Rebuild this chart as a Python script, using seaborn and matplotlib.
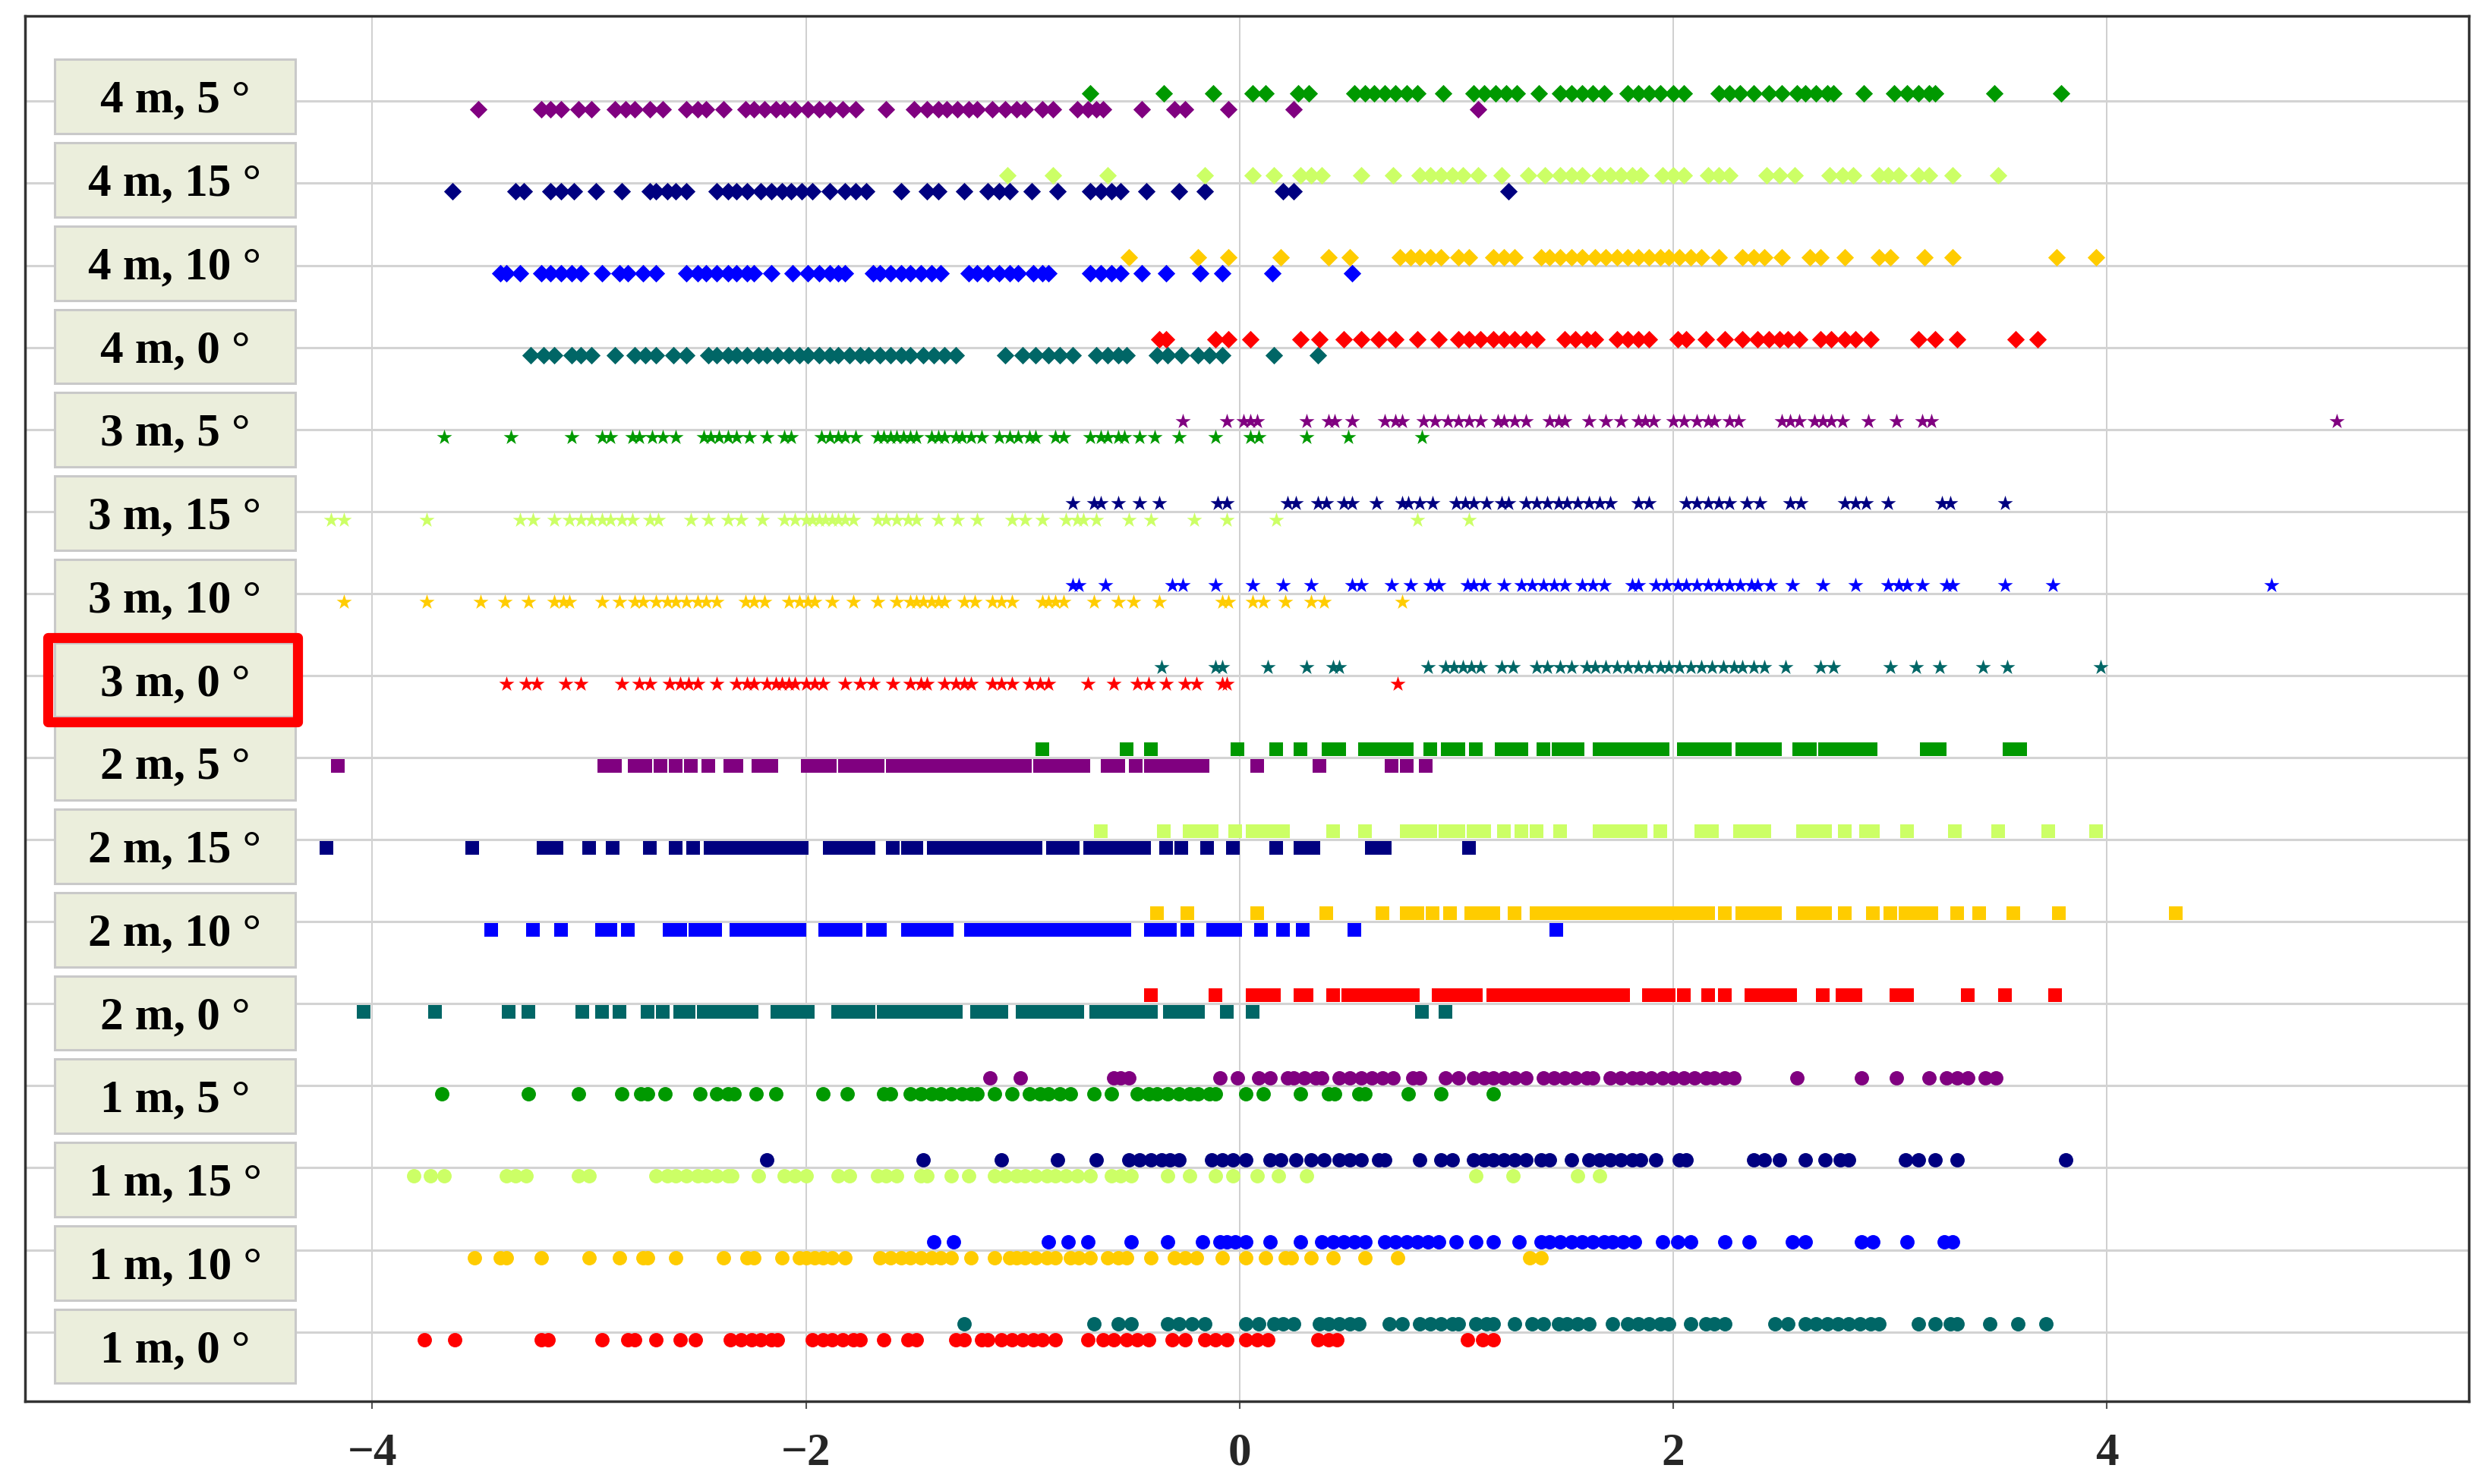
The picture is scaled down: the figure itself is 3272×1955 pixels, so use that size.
import matplotlib
matplotlib.use("Agg")
import matplotlib.pyplot as plt
import seaborn as sns
import numpy as np
from matplotlib.patches import Rectangle

# ---------------- data (x values) ----------------
# each row: "neg" = cluster drawn just below the row line, "pos" = just above
m1_d0_neg = [-3.76,-3.62,-3.22,-3.19,-2.94,-2.82,-2.79,-2.69,-2.58,-2.51,-2.35,-2.30,-2.25,-2.21,-2.16,-2.13,
             -1.97,-1.92,-1.88,-1.83,-1.78,-1.75,-1.64,-1.53,-1.49,-1.31,-1.27,-1.19,-1.16,-1.10,-1.05,-1.00,
             -0.95,-0.91,-0.85,-0.70,-0.63,-0.58,-0.52,-0.47,-0.42,-0.31,-0.25,-0.16,-0.11,-0.06,0.03,0.08,
             0.13,0.36,0.41,0.45,1.05,1.12,1.17]
m1_d0_pos = [-1.27,-0.67,-0.56,-0.50,-0.33,-0.28,-0.22,-0.16,0.03,0.09,0.16,0.20,0.25,0.37,0.41,0.46,0.51,
             0.55,0.69,0.75,0.83,0.88,0.93,0.98,1.01,1.09,1.14,1.17,1.27,1.35,1.40,1.47,1.51,1.56,1.61,1.72,
             1.79,1.84,1.89,1.94,1.98,2.08,2.15,2.19,2.24,2.47,2.53,2.61,2.66,2.71,2.76,2.81,2.86,2.91,2.95,
             3.13,3.21,3.28,3.31,3.46,3.59,3.72]
m1_d10_neg = [-3.53,-3.41,-3.38,-3.22,-3.00,-2.86,-2.75,-2.73,-2.60,-2.38,-2.27,-2.24,-2.11,-2.03,-2.00,-1.96,
              -1.92,-1.88,-1.82,-1.66,-1.61,-1.56,-1.52,-1.47,-1.42,-1.38,-1.33,-1.24,-1.13,-1.06,-1.03,-0.99,
              -0.94,-0.89,-0.85,-0.78,-0.74,-0.69,-0.61,-0.56,-0.52,-0.41,-0.30,-0.25,-0.20,-0.08,0.03,0.12,
              0.21,0.24,0.33,0.43,0.58,0.73,1.34,1.39]
m1_d10_pos = [-1.41,-1.32,-0.88,-0.79,-0.70,-0.50,-0.33,-0.17,-0.09,-0.06,-0.02,0.03,0.14,0.28,0.38,0.43,
              0.48,0.53,0.58,0.67,0.72,0.77,0.82,0.87,0.92,1.00,1.09,1.17,1.29,1.39,1.43,1.48,1.53,1.58,1.63,
              1.68,1.72,1.77,1.82,1.95,2.02,2.08,2.24,2.35,2.55,2.61,2.87,2.92,3.08,3.25,3.29]
m1_d15_neg = [-3.81,-3.73,-3.67,-3.38,-3.34,-3.29,-3.05,-3.00,-2.69,-2.64,-2.60,-2.55,-2.50,-2.46,-2.41,-2.36,
              -2.34,-2.22,-2.10,-2.05,-2.00,-1.85,-1.80,-1.67,-1.63,-1.58,-1.47,-1.44,-1.33,-1.25,-1.13,-1.08,
              -1.03,-0.99,-0.94,-0.89,-0.85,-0.80,-0.75,-0.69,-0.59,-0.55,-0.50,-0.33,-0.23,-0.11,-0.03,0.08,
              0.18,0.31,1.09,1.26,1.56,1.66]
m1_d15_pos = [-2.18,-1.46,-1.10,-0.84,-0.66,-0.51,-0.46,-0.41,-0.36,-0.32,-0.28,-0.13,-0.08,-0.03,0.03,0.14,
              0.19,0.26,0.33,0.39,0.46,0.51,0.56,0.64,0.67,0.83,0.93,0.98,1.08,1.13,1.17,1.22,1.27,1.32,1.39,
              1.43,1.53,1.61,1.66,1.71,1.76,1.81,1.85,1.92,2.03,2.06,2.37,2.42,2.49,2.61,2.70,2.77,2.81,3.07,
              3.13,3.21,3.31,3.81]
m1_d5_neg = [-3.68,-3.28,-3.05,-2.85,-2.76,-2.73,-2.65,-2.49,-2.41,-2.36,-2.33,-2.23,-2.14,-1.92,-1.81,-1.64,
             -1.61,-1.52,-1.47,-1.42,-1.38,-1.33,-1.28,-1.24,-1.21,-1.13,-1.05,-0.97,-0.92,-0.88,-0.83,-0.78,
             -0.67,-0.59,-0.47,-0.42,-0.38,-0.33,-0.28,-0.23,-0.19,-0.14,-0.11,0.03,0.11,0.28,0.41,0.44,0.55,
             0.58,0.78,0.93,1.17]
m1_d5_pos = [-1.15,-1.01,-0.58,-0.55,-0.51,-0.09,-0.01,0.09,0.14,0.22,0.25,0.30,0.35,0.38,0.46,0.51,0.56,
             0.61,0.66,0.71,0.80,0.83,0.95,1.01,1.08,1.13,1.17,1.22,1.27,1.32,1.40,1.45,1.50,1.55,1.60,1.63,
             1.71,1.76,1.81,1.85,1.90,1.95,2.00,2.05,2.10,2.15,2.19,2.24,2.28,2.57,2.87,3.03,3.18,3.26,3.31,
             3.36,3.44,3.49]

m2_d0_neg = [-4.04,-3.71,-3.37,-3.28,-3.03,-2.94,-2.86,-2.73,-2.66,-2.58,-2.54,-2.47,-2.43,-2.38,-2.33,-2.28,
             -2.25,-2.13,-2.08,-2.03,-1.99,-1.85,-1.80,-1.75,-1.71,-1.64,-1.60,-1.55,-1.50,-1.46,-1.41,-1.36,
             -1.31,-1.21,-1.15,-1.10,-1.00,-0.95,-0.91,-0.85,-0.80,-0.75,-0.66,-0.61,-0.55,-0.50,-0.45,-0.41,
             -0.32,-0.27,-0.23,-0.19,-0.06,0.06,0.84,0.95]
m2_d0_pos = [-0.41,-0.11,0.06,0.11,0.16,0.28,0.31,0.43,0.50,0.56,0.61,0.66,0.71,0.75,0.80,0.92,0.96,1.01,
             1.06,1.09,1.17,1.22,1.27,1.32,1.37,1.42,1.47,1.51,1.56,1.61,1.66,1.72,1.77,1.89,1.94,1.98,2.05,
             2.16,2.24,2.36,2.40,2.45,2.50,2.54,2.69,2.78,2.84,3.03,3.08,3.36,3.53,3.76]
m2_d10_neg = [-3.45,-3.26,-3.13,-2.94,-2.90,-2.82,-2.63,-2.58,-2.51,-2.47,-2.42,-2.32,-2.27,-2.22,-2.18,-2.13,
              -2.08,-2.03,-1.91,-1.86,-1.82,-1.77,-1.69,-1.66,-1.53,-1.49,-1.44,-1.39,-1.35,-1.24,-1.19,-1.14,
              -1.10,-1.05,-1.00,-0.95,-0.91,-0.86,-0.81,-0.77,-0.72,-0.67,-0.63,-0.58,-0.53,-0.41,-0.36,-0.32,
              -0.24,-0.12,-0.06,-0.02,0.10,0.20,0.29,0.53,1.46]
m2_d10_pos = [-0.38,-0.24,0.08,0.40,0.66,0.77,0.82,0.89,0.97,1.07,1.13,1.17,1.27,1.37,1.42,1.47,1.51,1.56,
              1.61,1.66,1.71,1.76,1.81,1.85,1.90,1.95,2.00,2.05,2.10,2.16,2.24,2.32,2.37,2.42,2.47,2.60,2.65,
              2.70,2.79,2.92,3.00,3.07,3.13,3.19,3.31,3.41,3.57,3.78,4.32]
m2_d15_neg = [-4.21,-3.54,-3.21,-3.15,-3.00,-2.89,-2.72,-2.60,-2.52,-2.44,-2.39,-2.35,-2.30,-2.25,-2.21,-2.16,
              -2.11,-2.07,-2.02,-1.89,-1.85,-1.80,-1.75,-1.71,-1.60,-1.53,-1.49,-1.41,-1.36,-1.31,-1.27,-1.22,
              -1.17,-1.13,-1.08,-1.03,-0.99,-0.94,-0.86,-0.81,-0.77,-0.69,-0.64,-0.59,-0.55,-0.50,-0.44,-0.34,
              -0.27,-0.15,-0.03,0.17,0.28,0.34,0.61,0.67,1.06]
m2_d15_pos = [-0.64,-0.35,-0.23,-0.19,-0.13,-0.02,0.06,0.11,0.16,0.20,0.43,0.58,0.77,0.82,0.88,0.95,1.01,
              1.08,1.13,1.22,1.30,1.37,1.48,1.66,1.71,1.76,1.81,1.85,1.94,2.13,2.18,2.31,2.36,2.42,2.60,2.65,
              2.70,2.79,2.89,2.92,3.08,3.30,3.50,3.73,3.95]
m2_d5_neg = [-4.16,-2.93,-2.88,-2.79,-2.74,-2.67,-2.60,-2.53,-2.45,-2.35,-2.32,-2.22,-2.16,-1.99,-1.94,-1.89,
             -1.82,-1.77,-1.72,-1.67,-1.60,-1.55,-1.50,-1.46,-1.41,-1.36,-1.31,-1.27,-1.22,-1.17,-1.13,-1.08,
             -1.03,-0.99,-0.92,-0.88,-0.83,-0.78,-0.72,-0.61,-0.56,-0.48,-0.41,-0.36,-0.31,-0.27,-0.22,-0.17,
             0.08,0.37,0.70,0.77,0.86]
m2_d5_pos = [-0.91,-0.52,-0.41,-0.01,0.17,0.28,0.41,0.46,0.58,0.62,0.67,0.72,0.77,0.88,0.96,1.01,1.09,1.21,
             1.26,1.30,1.40,1.47,1.51,1.56,1.66,1.71,1.76,1.81,1.85,1.90,1.95,2.05,2.10,2.15,2.19,2.24,2.32,
             2.37,2.42,2.47,2.58,2.63,2.70,2.76,2.81,2.86,2.91,3.17,3.23,3.55,3.60]

m3_d0_neg = [-3.38,-3.29,-3.24,-3.11,-3.04,-2.85,-2.77,-2.72,-2.63,-2.58,-2.54,-2.50,-2.41,-2.32,-2.27,-2.24,
             -2.18,-2.14,-2.11,-2.08,-2.05,-2.00,-1.96,-1.92,-1.82,-1.75,-1.69,-1.60,-1.52,-1.47,-1.44,-1.36,
             -1.31,-1.27,-1.24,-1.14,-1.10,-1.05,-0.97,-0.92,-0.88,-0.70,-0.58,-0.47,-0.42,-0.34,-0.25,-0.20,
             -0.08,-0.06,0.73]
m3_d0_pos = [-0.36,-0.11,-0.08,0.13,0.31,0.43,0.46,0.87,0.95,0.99,1.03,1.07,1.11,1.21,1.26,1.37,1.42,1.48,
             1.53,1.60,1.64,1.69,1.74,1.79,1.84,1.89,1.94,1.98,2.03,2.08,2.13,2.18,2.23,2.28,2.32,2.37,2.42,
             2.52,2.68,2.74,3.00,3.12,3.23,3.43,3.54,3.97]
m3_d10_neg = [-4.13,-3.75,-3.50,-3.39,-3.28,-3.16,-3.12,-3.09,-2.94,-2.86,-2.79,-2.75,-2.69,-2.64,-2.60,-2.55,
              -2.50,-2.46,-2.41,-2.28,-2.24,-2.19,-2.08,-2.03,-1.99,-1.96,-1.88,-1.78,-1.67,-1.58,-1.52,-1.49,
              -1.46,-1.42,-1.39,-1.36,-1.27,-1.22,-1.14,-1.10,-1.05,-0.91,-0.88,-0.85,-0.81,-0.67,-0.56,-0.49,
              -0.37,-0.08,-0.05,0.06,0.11,0.21,0.33,0.39,0.75]
m3_d10_pos = [-0.77,-0.74,-0.62,-0.31,-0.26,-0.11,0.06,0.20,0.33,0.52,0.56,0.70,0.79,0.88,0.92,1.05,1.08,
              1.13,1.22,1.30,1.35,1.40,1.45,1.50,1.58,1.63,1.68,1.81,1.84,1.92,1.97,2.02,2.06,2.11,2.16,2.21,
              2.26,2.31,2.36,2.39,2.45,2.55,2.69,2.84,2.99,3.04,3.08,3.15,3.26,3.29,3.53,3.75,4.76]
m3_d15_neg = [-4.19,-4.13,-3.75,-3.32,-3.26,-3.16,-3.09,-3.04,-2.99,-2.94,-2.90,-2.85,-2.80,-2.72,-2.68,-2.53,
              -2.45,-2.36,-2.30,-2.20,-2.10,-2.05,-2.00,-1.97,-1.94,-1.91,-1.88,-1.85,-1.82,-1.78,-1.67,-1.63,
              -1.58,-1.53,-1.49,-1.39,-1.30,-1.21,-1.05,-0.99,-0.91,-0.80,-0.75,-0.72,-0.66,-0.51,-0.41,-0.21,
              -0.06,0.17,0.82,1.06]
m3_d15_pos = [-0.77,-0.67,-0.64,-0.56,-0.46,-0.37,-0.10,-0.06,0.22,0.26,0.36,0.40,0.48,0.52,0.63,0.75,0.78,
              0.83,0.89,1.00,1.04,1.08,1.14,1.21,1.24,1.32,1.37,1.42,1.47,1.51,1.56,1.61,1.66,1.71,1.84,1.89,
              2.06,2.11,2.16,2.21,2.26,2.34,2.40,2.54,2.59,2.79,2.84,2.89,2.99,3.24,3.28,3.53]
m3_d5_neg = [-3.67,-3.36,-3.08,-2.94,-2.90,-2.80,-2.77,-2.71,-2.66,-2.60,-2.47,-2.44,-2.40,-2.36,-2.32,-2.26,
             -2.18,-2.10,-2.07,-1.93,-1.89,-1.85,-1.82,-1.77,-1.67,-1.64,-1.61,-1.58,-1.55,-1.52,-1.49,-1.42,
             -1.39,-1.36,-1.31,-1.28,-1.24,-1.19,-1.11,-1.06,-1.02,-0.97,-0.94,-0.85,-0.81,-0.69,-0.64,-0.61,
             -0.56,-0.53,-0.46,-0.39,-0.28,-0.11,0.05,0.09,0.31,0.50,0.84]
m3_d5_pos = [-0.26,-0.06,0.02,0.05,0.08,0.31,0.41,0.44,0.52,0.67,0.72,0.75,0.85,0.90,0.96,1.01,1.06,1.11,
             1.19,1.22,1.27,1.32,1.43,1.47,1.50,1.61,1.69,1.76,1.84,1.87,1.91,2.00,2.05,2.11,2.16,2.19,2.26,
             2.30,2.50,2.54,2.58,2.65,2.69,2.73,2.78,2.90,3.03,3.15,3.19,5.06]

m4_d0_neg = [-3.27,-3.21,-3.16,-3.08,-3.04,-2.99,-2.88,-2.79,-2.74,-2.69,-2.61,-2.55,-2.45,-2.41,-2.36,-2.32,
             -2.27,-2.22,-2.18,-2.13,-2.08,-2.03,-1.99,-1.94,-1.89,-1.85,-1.80,-1.75,-1.71,-1.66,-1.61,-1.56,
             -1.52,-1.46,-1.41,-1.36,-1.31,-1.08,-1.00,-0.94,-0.88,-0.83,-0.77,-0.66,-0.61,-0.56,-0.52,-0.38,
             -0.33,-0.27,-0.19,-0.14,-0.08,0.16,0.36]
m4_d0_pos = [-0.37,-0.34,-0.11,-0.05,0.05,0.28,0.37,0.48,0.56,0.64,0.72,0.82,0.92,1.01,1.06,1.11,1.17,1.22,
             1.27,1.32,1.37,1.50,1.55,1.60,1.64,1.74,1.79,1.84,1.89,2.02,2.06,2.15,2.24,2.32,2.39,2.44,2.49,
             2.53,2.58,2.68,2.73,2.79,2.84,2.91,3.13,3.21,3.31,3.58,3.68]
m4_d10_neg = [-3.41,-3.38,-3.32,-3.22,-3.18,-3.13,-3.08,-3.04,-2.94,-2.86,-2.82,-2.75,-2.69,-2.55,-2.50,-2.46,
              -2.41,-2.36,-2.32,-2.27,-2.24,-2.16,-2.06,-1.99,-1.94,-1.89,-1.85,-1.82,-1.69,-1.66,-1.61,-1.56,
              -1.52,-1.47,-1.42,-1.38,-1.25,-1.21,-1.16,-1.11,-1.06,-1.02,-0.95,-0.91,-0.88,-0.69,-0.64,-0.59,
              -0.55,-0.45,-0.34,-0.18,-0.08,0.15,0.52]
m4_d10_pos = [-0.51,-0.19,-0.05,0.19,0.41,0.51,0.74,0.79,0.83,0.88,0.93,1.01,1.06,1.17,1.22,1.27,1.39,1.43,
              1.48,1.53,1.58,1.64,1.69,1.74,1.79,1.84,1.89,1.94,1.98,2.03,2.08,2.13,2.21,2.32,2.37,2.42,2.50,
              2.63,2.68,2.79,2.95,3.00,3.16,3.29,3.77,3.95]
m4_d15_neg = [-3.63,-3.34,-3.30,-3.18,-3.13,-3.07,-2.97,-2.85,-2.72,-2.69,-2.64,-2.60,-2.55,-2.41,-2.36,-2.32,
              -2.27,-2.21,-2.16,-2.11,-2.07,-2.02,-1.97,-1.89,-1.82,-1.77,-1.72,-1.56,-1.44,-1.39,-1.27,-1.16,
              -1.11,-1.06,-0.96,-0.84,-0.69,-0.64,-0.59,-0.55,-0.43,-0.28,-0.16,0.20,0.25,1.24]
m4_d15_pos = [-1.07,-0.86,-0.61,-0.16,0.06,0.16,0.28,0.33,0.38,0.56,0.71,0.83,0.88,0.93,0.98,1.03,1.10,1.21,
              1.33,1.41,1.48,1.53,1.58,1.66,1.71,1.76,1.81,1.85,1.95,2.00,2.05,2.16,2.21,2.26,2.43,2.49,2.56,
              2.72,2.78,2.83,2.95,2.99,3.04,3.13,3.18,3.29,3.50]
m4_d5_neg = [-3.51,-3.22,-3.18,-3.13,-3.05,-2.99,-2.88,-2.83,-2.79,-2.72,-2.66,-2.55,-2.50,-2.46,-2.38,-2.28,
             -2.24,-2.19,-2.14,-2.10,-2.05,-1.99,-1.94,-1.89,-1.83,-1.77,-1.63,-1.50,-1.44,-1.39,-1.35,-1.30,
             -1.25,-1.21,-1.14,-1.08,-1.03,-0.99,-0.91,-0.86,-0.75,-0.70,-0.66,-0.63,-0.45,-0.30,-0.25,-0.05,
             0.25,1.10]
m4_d5_pos = [-0.69,-0.35,-0.12,0.06,0.12,0.27,0.32,0.53,0.58,0.62,0.67,0.72,0.77,0.82,0.94,1.08,1.13,1.18,
             1.23,1.28,1.38,1.48,1.53,1.58,1.63,1.68,1.79,1.84,1.89,1.94,2.00,2.05,2.21,2.26,2.31,2.37,2.44,
             2.50,2.57,2.61,2.66,2.71,2.74,2.88,3.02,3.08,3.13,3.18,3.21,3.48,3.79]

row_labels = ["1 m, 0 °", "1 m, 10 °", "1 m, 15 °", "1 m, 5 °",
              "2 m, 0 °", "2 m, 10 °", "2 m, 15 °", "2 m, 5 °",
              "3 m, 0 °", "3 m, 10 °", "3 m, 15 °", "3 m, 5 °",
              "4 m, 0 °", "4 m, 10 °", "4 m, 15 °", "4 m, 5 °"]
row_neg = [m1_d0_neg, m1_d10_neg, m1_d15_neg, m1_d5_neg,
           m2_d0_neg, m2_d10_neg, m2_d15_neg, m2_d5_neg,
           m3_d0_neg, m3_d10_neg, m3_d15_neg, m3_d5_neg,
           m4_d0_neg, m4_d10_neg, m4_d15_neg, m4_d5_neg]
row_pos = [m1_d0_pos, m1_d10_pos, m1_d15_pos, m1_d5_pos,
           m2_d0_pos, m2_d10_pos, m2_d15_pos, m2_d5_pos,
           m3_d0_pos, m3_d10_pos, m3_d15_pos, m3_d5_pos,
           m4_d0_pos, m4_d10_pos, m4_d15_pos, m4_d5_pos]
highlight_label = "3 m, 0 °"
x_ticks = [-4, -2, 0, 2, 4]
x_tick_labels = ["\u22124", "\u22122", "0", "2", "4"]

# ---------------- styling ----------------
RED, TEAL, GOLD, BLUE = "#FF0000", "#006666", "#FFCC00", "#0000FF"
LGREEN, NAVY, GREEN, PURPLE = "#CCFF66", "#000080", "#009900", "#800080"
odd_pairs = {0: (RED, TEAL), 10: (GOLD, BLUE), 15: (LGREEN, NAVY), 5: (GREEN, PURPLE)}
even_pairs = {0: (TEAL, RED), 10: (BLUE, GOLD), 15: (NAVY, LGREEN), 5: (PURPLE, GREEN)}
markers = {1: ("o", 185), 2: ("s", 165), 3: ("*", 230), 4: ("D", 140)}
angles = [0, 10, 15, 5]

sns.set_style("white")
plt.rcParams["font.family"] = ["Liberation Serif", "DejaVu Serif"]

fig = plt.figure(figsize=(32.73, 19.55), dpi=100)
ax = fig.add_axes([0.0102, 0.0555, 0.9834, 0.9338])

OFF = 0.10
for i in range(16):
    dist = i // 4 + 1
    ang = angles[i % 4]
    cneg, cpos = (odd_pairs if dist % 2 == 1 else even_pairs)[ang]
    mk, sz = markers[dist]
    xn = np.array(row_neg[i]); xp = np.array(row_pos[i])
    sns.scatterplot(x=xn, y=np.full(len(xn), i - OFF), color=cneg, marker=mk, s=sz,
                    linewidth=0, ax=ax, zorder=3, legend=False)
    sns.scatterplot(x=xp, y=np.full(len(xp), i + OFF), color=cpos, marker=mk, s=sz,
                    linewidth=0, ax=ax, zorder=3, legend=False)

# label boxes (their spacing is slightly larger than the row spacing)
BX0, BW, BH = -5.465, 1.11, 0.905
for i, lab in enumerate(row_labels):
    yc = -0.174 + 1.0154 * i
    ax.add_patch(Rectangle((BX0, yc - BH / 2), BW, BH, facecolor="#EBEEDC",
                           edgecolor="#C9C9C9", linewidth=2.2, zorder=4))
    ax.text(BX0 + BW / 2, yc - 0.19, lab, ha="center", va="baseline", fontsize=44,
            fontweight="bold", color="black", zorder=5)
    if lab == highlight_label:
        ax.add_patch(Rectangle((BX0 - 0.03, yc - 0.51), BW + 0.04, 1.02, fill=False,
                               edgecolor="#FF0000", linewidth=9.5, joinstyle="round", zorder=6))

ax.set_xlim(-5.60, 5.67)
ax.set_ylim(-0.85, 16.04)
ax.set_yticks(range(16))
ax.tick_params(axis="y", left=False, labelleft=False)
ax.set_xticks(x_ticks)
ax.set_xticklabels(x_tick_labels, fontsize=44, fontweight="bold")
ax.tick_params(axis="x", direction="out", length=7, width=1.5, color="#555555", pad=22, bottom=True)
ax.set_axisbelow(True)
ax.yaxis.grid(True, color="#D3D3D3", linewidth=2.2)
ax.xaxis.grid(True, color="#CFCFCF", linewidth=1.4)
for s in ax.spines.values():
    s.set_linewidth(2.5)
    s.set_color("#333333")
ax.set_xlabel("")
ax.set_ylabel("")

fig.savefig("out.png", dpi=100, facecolor="white")
